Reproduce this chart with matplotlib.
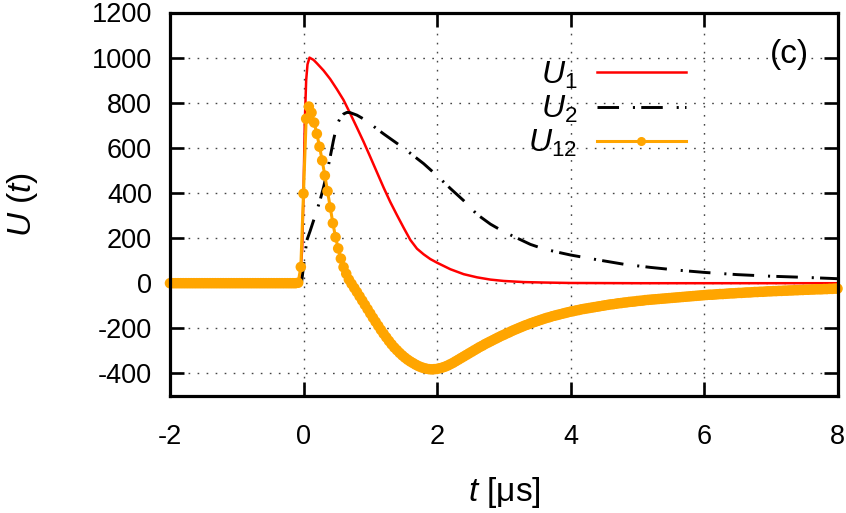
import numpy as np
import matplotlib
matplotlib.use('Agg')
import matplotlib.pyplot as plt
from matplotlib.lines import Line2D

plt.rcParams['font.family'] = ['Liberation Sans', 'DejaVu Sans']
plt.rcParams['mathtext.fontset'] = 'custom'
plt.rcParams['mathtext.rm'] = 'Liberation Sans'
plt.rcParams['mathtext.it'] = 'Liberation Sans:italic'
plt.rcParams['mathtext.bf'] = 'Liberation Sans:bold'
plt.rcParams['lines.scale_dashes'] = False

# ---------------- data ----------------
# U1 (red)
t1 = [-2.0, -0.06, -0.02, 0.0, 0.02, 0.04, 0.06, 0.09, 0.15, 0.2, 0.3, 0.4, 0.5,
      0.6, 0.7, 0.8, 0.9, 1.0, 1.1, 1.2, 1.3, 1.4, 1.5, 1.6, 1.7, 1.8, 1.9, 2.0,
      2.2, 2.4, 2.6, 2.8, 3.0, 3.3, 3.6, 4.0, 5.0, 6.0, 8.0]
u1 = [0, 0, 150, 400, 720, 900, 970, 1000, 990, 975, 943, 905, 860,
      812, 752, 690, 627, 560, 492, 424, 360, 302, 246, 192, 153, 128, 107, 91,
      62, 40, 26, 16, 10, 5, 3, 1, 0, 0, 0]

# U2 (black, dash-dot)
t2 = [-2.0, -0.03, 0.0, 0.03, 0.05, 0.1, 0.15, 0.2, 0.25, 0.3, 0.35, 0.4, 0.45,
      0.5, 0.55, 0.6, 0.65, 0.7, 0.8, 0.9, 1.0, 1.1, 1.2, 1.4, 1.6, 1.8, 2.0,
      2.2, 2.4, 2.6, 2.8, 3.0, 3.2, 3.4, 3.6, 3.8, 4.0, 4.4, 4.8, 5.2, 5.6, 6.0,
      6.5, 7.0, 7.5, 8.0]
u2 = [0, 0, 75, 145, 190, 232, 277, 322, 370, 425, 488, 560, 635,
      700, 733, 750, 757, 756, 745, 728, 707, 684, 662, 620, 576, 530, 477,
      420, 366, 305, 262, 228, 200, 172, 152, 138, 125, 104, 84, 70, 58, 48,
      38, 31, 26, 20]

# U12 (orange, points), sampled every 0.04 from t = -2.00
t12_start = -2.0
t12_step = 0.04
u12 = [
    0, 0, 0, 0, 0, 0, 0, 0, 0, 0,                               # -2.00
    0, 0, 0, 0, 0, 0, 0, 0, 0, 0,                               # -1.60
    0, 0, 0, 0, 0, 0, 0, 0, 0, 0,                               # -1.20
    0, 0, 0, 0, 0, 0, 0, 0, 0, 0,                               # -0.80
    0, 0, 0, 0, 0, 0, 0, 0, 2, 72,                              # -0.40
    397, 729, 783, 756, 712, 662, 605, 544, 477, 408,           #  0.00
    336, 266, 204, 154, 109, 71, 42, 16, -3, -21,               #  0.40
    -39, -58, -77, -96, -115, -134, -153, -171, -189, -207,     #  0.80
    -224, -240, -256, -271, -285, -297, -309, -320, -330, -339, #  1.20
    -347, -354, -361, -367, -372, -376, -379, -381, -382, -381, #  1.60
    -380, -377, -374, -370, -365, -359, -353, -346, -339, -332, #  2.00
    -325, -318, -311, -304, -297, -290, -283, -277, -270, -264, #  2.40
    -258, -252, -246, -240, -234, -229, -223, -218, -212, -207, #  2.80
    -202, -197, -192, -187, -183, -178, -174, -170, -166, -162, #  3.20
    -158, -154, -151, -147, -144, -141, -138, -135, -132, -129, #  3.60
    -126, -124, -121, -119, -116, -114, -112, -110, -108, -106, #  4.00
    -104, -102, -100, -98, -96, -94, -93, -91, -89, -88,        #  4.40
    -86, -85, -83, -82, -81, -79, -78, -77, -75, -74,           #  4.80
    -73, -72, -71, -70, -69, -68, -67, -66, -65, -64,           #  5.20
    -63, -62, -61, -60, -59, -58, -57, -56, -55, -54,           #  5.60
    -53, -52, -51, -51, -50, -49, -48, -48, -47, -46,           #  6.00
    -45, -45, -44, -43, -43, -42, -41, -41, -40, -39,           #  6.40
    -39, -38, -38, -37, -36, -36, -35, -35, -34, -34,           #  6.80
    -33, -33, -32, -32, -31, -31, -30, -30, -29, -29,           #  7.20
    -28, -28, -27, -27, -27, -26, -26, -25, -25, -24,           #  7.60
    -24,                                                        #  8.00
]
t12 = np.round(t12_start + t12_step * np.arange(len(u12)), 2)

labels = [r'$U_1$', r'$U_2$', r'$U_{12}$']
xticks = [-2, 0, 2, 4, 6, 8]
yticks = [-400, -200, 0, 200, 400, 600, 800, 1000, 1200]
xlim = (-2, 8)
ylim = (-500, 1200)

# ---------------- figure ----------------
W, H = 846, 513
fig = plt.figure(figsize=(W / 100, H / 100), dpi=100)
L, R, T, B = 170, 837.5, 12.5, 396
ax = fig.add_axes([L / W, 1 - B / H, (R - L) / W, (B - T) / H])

FS = 19.5
FL = 24
RED = '#ff0000'
ORANGE = '#ffa500'
MS = 7.6

l1, = ax.plot(t1, u1, color=RED, lw=1.8, zorder=3)
l2, = ax.plot(t2, u2, color='black', lw=2.1, dashes=(15.5, 10, 1.5, 4.5), zorder=3.1)
ax.plot(t12, u12, color=ORANGE, lw=2.2, zorder=3.2, clip_on=False)
ax.scatter(t12, u12, s=MS ** 2, color=ORANGE, edgecolors='none', zorder=3.3,
           clip_on=False)
h12 = Line2D([], [], color=ORANGE, lw=2.2, marker='o', ms=5.5, mec=ORANGE, mfc=ORANGE)

ax.set_xlim(*xlim)
ax.set_ylim(*ylim)
ax.set_xticks(xticks)
ax.set_yticks(yticks)
ax.set_xticklabels([str(v) for v in xticks])
ax.set_yticklabels([str(v) for v in yticks])

ax.grid(True, color='#444444', linestyle=(0, (1.2, 5.3)), linewidth=1.0)
ax.tick_params(direction='in', length=10, width=1.9, top=True, right=True,
               labelsize=FS, colors='black')
ax.tick_params(axis='x', pad=20)
ax.tick_params(axis='y', pad=13)
for s in ax.spines.values():
    s.set_linewidth(2.3)
    s.set_zorder(5)

FLEG = 23
fpx = FLEG * 100 / 72
leg = ax.legend([l1, l2, h12], labels, loc='upper right',
                bbox_to_anchor=((685.7 - L) / (R - L), (B - 59.5) / (B - T)),
                frameon=False, markerfirst=False, numpoints=1, fontsize=FLEG,
                handlelength=89 / fpx, handletextpad=19.4 / fpx, labelspacing=0.1,
                borderpad=0, borderaxespad=0)

ax.text((789 - L) / (R - L), (B - 54) / (B - T), '(c)', transform=ax.transAxes,
        ha='center', va='center', fontsize=FL)

fig.text(504 / W, 1 - 492 / H, r'$t$ [μs]', ha='center', va='center', fontsize=FL)
fig.text(23 / W, 1 - 205 / H, r'$U\ (t)$', ha='center', va='center',
         rotation=90, fontsize=FL)

fig.savefig('out.png', dpi=100)
